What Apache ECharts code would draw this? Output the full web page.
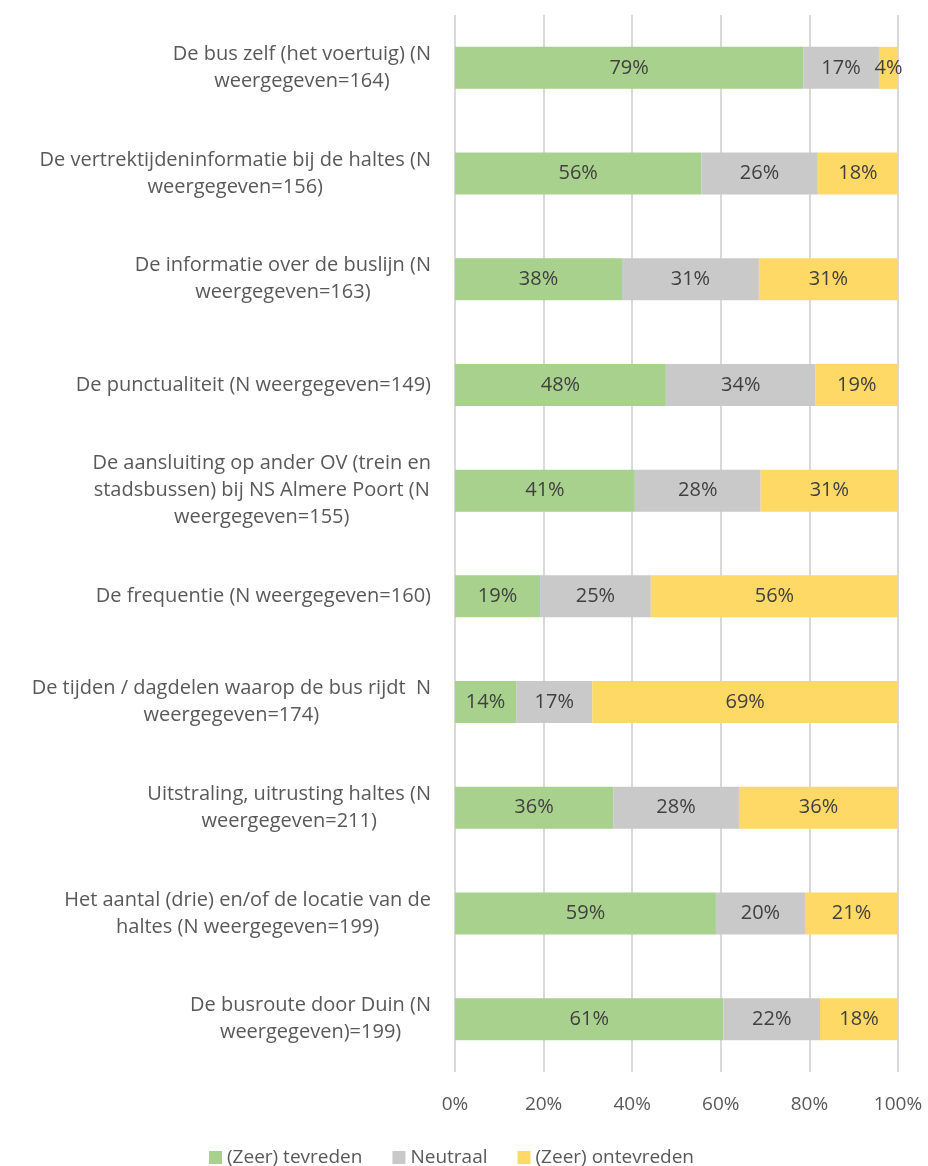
<!DOCTYPE html>
<html>
<head>
<meta charset="utf-8">
<script src="https://cdn.jsdelivr.net/npm/echarts@6/dist/echarts.min.js"></script>
<style>
  html, body { margin: 0; padding: 0; background: #fff; }
  #main { width: 928px; height: 1166px; }
</style>
</head>
<body>
<div id="main"></div>
<script>
var categories = [
    "De bus zelf (het voertuig) (N\nweergegeven=164)",
    "De vertrektijdeninformatie bij de haltes (N\nweergegeven=156)",
    "De informatie over de buslijn (N\nweergegeven=163)",
    "De punctualiteit (N weergegeven=149)",
    "De aansluiting op ander OV (trein en\nstadsbussen) bij NS Almere Poort (N\nweergegeven=155)",
    "De frequentie (N weergegeven=160)",
    "De tijden / dagdelen waarop de bus rijdt  N\nweergegeven=174)",
    "Uitstraling, uitrusting haltes (N\nweergegeven=211)",
    "Het aantal (drie) en/of de locatie van de\nhaltes (N weergegeven=199)",
    "De busroute door Duin (N\nweergegeven)=199)"
];
var seriesNames = ["(Zeer) tevreden", "Neutraal", "(Zeer) ontevreden"];
var tevreden = [78.6, 55.6, 37.7, 47.6, 40.6, 19.2, 13.8, 35.7, 58.9, 60.6];
var neutraal = [17.1, 26.3, 30.9, 33.8, 28.4, 25.0, 17.2, 28.4, 20.1, 21.8];
var ontevreden = [4.3, 18.1, 31.4, 18.6, 31.0, 55.8, 69.0, 35.9, 21.0, 17.6];
var xTicks = [0, 20, 40, 60, 80, 100];

var colors = ["#A9D18E", "#C9C9C9", "#FFD966"];
var font = "'Open Sans', sans-serif";

var chart = echarts.init(document.getElementById("main"));

function makeSeries(name, data, color) {
    return {
        name: name,
        type: "bar",
        stack: "total",
        data: data,
        barWidth: 42,
        itemStyle: { color: color },
        label: {
            show: true,
            position: "inside",
            color: "#404040",
            fontFamily: font,
            fontSize: 20,
            formatter: function (p) { return Math.round(p.value) + "%"; }
        },
        emphasis: { disabled: true },
        animation: false
    };
}

var option = {
    animation: false,
    grid: { left: 455, right: 30, top: 15, bottom: 94, containLabel: false },
    legend: {
        data: seriesNames,
        top: 1143,
        left: 204,
        itemWidth: 13,
        itemHeight: 13,
        itemGap: 30,
        icon: "rect",
        textStyle: { color: "#595959", fontFamily: font, fontSize: 19 }
    },
    xAxis: {
        type: "value",
        min: xTicks[0],
        max: xTicks[xTicks.length - 1],
        interval: 20,
        axisLine: { show: false },
        axisTick: { show: false },
        splitLine: { show: true, lineStyle: { color: "#D9D9D9", width: 2 } },
        axisLabel: {
            color: "#595959",
            fontFamily: font,
            fontSize: 19,
            margin: 23,
            formatter: function (v) { return v + "%"; }
        }
    },
    yAxis: {
        type: "category",
        data: categories,
        inverse: true,
        axisLine: { show: false },
        axisTick: { show: false },
        axisLabel: {
            margin: 24,
            formatter: function (v) {
                return v.split("\n").map(function (l) { return "{c|" + l + "}"; }).join("\n");
            },
            rich: {
                c: { align: "center", color: "#595959", fontFamily: font, fontSize: 20, lineHeight: 27 }
            }
        }
    },
    series: [
        makeSeries(seriesNames[0], tevreden, colors[0]),
        makeSeries(seriesNames[1], neutraal, colors[1]),
        makeSeries(seriesNames[2], ontevreden, colors[2])
    ]
};
chart.setOption(option);
</script>
</body>
</html>
